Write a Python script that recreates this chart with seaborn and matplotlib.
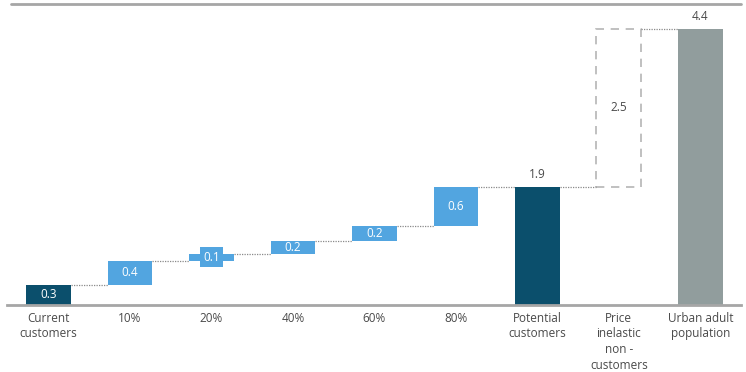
import numpy as np
import pandas as pd
import seaborn as sns
from matplotlib import pyplot as plt

categories = ["Current\ncustomers", "10%", "20%", "40%", "60%", "80%",
              "Potential\ncustomers", "Price\ninelastic\nnon -\ncustomers", "Urban adult\npopulation"]
bar_bottom = [0, 0.31, 0.70, 0.81, 1.02, 1.25, 0, 1.88, 0]
bar_top = [0.31, 0.70, 0.81, 1.02, 1.25, 1.88, 1.88, 4.4, 4.4]
value_labels = ["0.3", "0.4", "0.1", "0.2", "0.2", "0.6", "1.9", "2.5", "4.4"]
kinds = ["total", "step", "step", "step", "step", "step", "total", "gap", "pop"]

DARK = "#0b4f6c"
LIGHT = "#52a5e0"
GREY = "#919d9d"
TXT = "#4a4a4a"

sns.set_style("white")
plt.rcParams['font.family'] = ['Open Sans', 'DejaVu Sans']

df = pd.DataFrame({"cat": categories,
                   "height": np.array(bar_top) - np.array(bar_bottom),
                   "bottom": bar_bottom})

fig = plt.figure(figsize=(7.46, 3.72), dpi=100)
ax = fig.add_axes([0.0094, 0.181, 0.984, 0.808])
sns.barplot(data=df, x="cat", y="height", bottom=df["bottom"].values, width=0.55,
            color=LIGHT, ax=ax, errorbar=None, order=categories)

colors = {"total": DARK, "step": LIGHT, "pop": GREY}
for p, k in zip(ax.patches, kinds):
    if k == "gap":
        p.set_facecolor("none")
        p.set_edgecolor("#b5b5b5")
        p.set_linestyle((0, (5, 4)))
        p.set_linewidth(1.2)
    else:
        p.set_facecolor(colors[k])
        p.set_edgecolor("none")

# dotted connectors between bars
for i in range(len(categories) - 1):
    if kinds[i + 1] in ("total", "pop"):
        y = bar_top[i + 1]
    else:
        y = bar_bottom[i + 1]
    ax.plot([i + 0.275, i + 1 - 0.275], [y, y], color="#8a8a8a", lw=0.9, ls=(0, (1, 1)))

# value labels
for i, (lab, k) in enumerate(zip(value_labels, kinds)):
    mid = (bar_top[i] + bar_bottom[i]) / 2
    if k == "step":
        bb = dict(boxstyle="square,pad=0.3", fc=LIGHT, ec="none") if i == 2 else None
        ax.text(i, mid, lab, ha="center", va="center", color="white", fontsize=8.5, bbox=bb)
    elif k == "total" and i == 0:
        ax.text(i, mid, lab, ha="center", va="center", color="white", fontsize=8.5)
    elif k == "gap":
        ax.text(i, mid, lab, ha="center", va="center", color=TXT, fontsize=8.5)
    else:
        ax.text(i, bar_top[i] + 0.09, lab, ha="center", va="bottom", color=TXT, fontsize=8.5)

ax.set_xlim(-0.51, 8.5)
ax.set_ylim(0, 4.79)
ax.set_xlabel("")
ax.set_ylabel("")
ax.set_yticks([])
ax.tick_params(axis="x", length=0, pad=5, labelsize=8.5, labelcolor=TXT)
for t in ax.get_xticklabels():
    t.set_linespacing(1.28)
for s in ["left", "right", "top"]:
    ax.spines[s].set_visible(False)
ax.spines["bottom"].set_color("#a6a6a6")
ax.spines["bottom"].set_linewidth(2)
ax.axhline(4.79, xmin=0.005, xmax=1.0, color="#a6a6a6", lw=2, clip_on=False)

fig.savefig("out.png", dpi=100)
